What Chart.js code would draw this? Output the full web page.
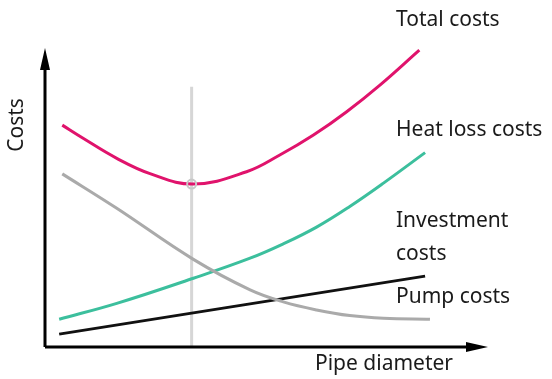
<!DOCTYPE html>
<html>
<head>
<meta charset="utf-8">
<script src="https://cdn.jsdelivr.net/npm/chart.js@4/dist/chart.umd.min.js"></script>
<style>
    html, body { margin: 0; padding: 0; background: #fff; }
    #wrap { width: 552px; height: 379px; }
</style>
</head>
<body>
<div id="wrap"><canvas id="costChart"></canvas></div>
<script>
// Pipe diameter (relative units) and the cost curves over it
const totalX = [3.9, 8.6, 16.2, 23.7, 33.5, 45.5, 53.0, 60.6, 68.1, 75.6, 84.5];
const totalY = [74.2, 69.8, 63.1, 58.0, 54.5, 58.6, 64.2, 70.9, 78.7, 87.6, 99.3];

const heatX = [3.2, 16.2, 33.5, 46.3, 53.8, 61.3, 68.8, 76.4, 85.8];
const heatY = [9.3, 14.6, 23.0, 29.7, 34.5, 40.1, 47.0, 54.8, 65.0];

const investX = [3.9, 16.2, 33.5, 46.3, 53.8, 61.3, 68.8, 76.4, 86.9];
const investY = [57.9, 46.4, 29.3, 19.1, 15.1, 12.4, 10.5, 9.6, 9.3];

const pumpX = [3.2, 85.8];
const pumpY = [4.3, 23.7];

// Economic optimum: minimum of the total cost curve
const optimumX = 33.1;
const optimumY = 54.5;

const FONT = '21px "Noto Sans", sans-serif';

function toPoints(xs, ys) {
    return xs.map((x, i) => ({ x: x, y: ys[i] }));
}

// Axes with arrows, axis titles, curve labels and the optimum marker
const diagramPlugin = {
    id: 'diagram',
    beforeDatasetsDraw(chart) {
        const ctx = chart.ctx;
        const xs = chart.scales.x, ys = chart.scales.y;
        const px = xs.getPixelForValue(optimumX);
        ctx.save();
        ctx.strokeStyle = '#d6d6d6';
        ctx.lineWidth = 3;
        ctx.beginPath();
        ctx.moveTo(px, ys.getPixelForValue(87));
        ctx.lineTo(px, ys.getPixelForValue(0));
        ctx.stroke();
        ctx.restore();
    },
    afterDatasetsDraw(chart) {
        const ctx = chart.ctx;
        const xs = chart.scales.x, ys = chart.scales.y;
        const x0 = xs.getPixelForValue(0), y0 = ys.getPixelForValue(0);
        const xEnd = xs.getPixelForValue(100), yEnd = ys.getPixelForValue(100);
        ctx.save();

        // optimum circle
        ctx.strokeStyle = '#c8c8c8';
        ctx.lineWidth = 2;
        ctx.beginPath();
        ctx.arc(xs.getPixelForValue(optimumX), ys.getPixelForValue(optimumY), 4.5, 0, Math.PI * 2);
        ctx.stroke();

        // axes
        ctx.strokeStyle = '#000';
        ctx.fillStyle = '#000';
        ctx.lineWidth = 3;
        ctx.beginPath();
        ctx.moveTo(x0, y0);
        ctx.lineTo(x0, yEnd + 18);
        ctx.moveTo(x0, y0);
        ctx.lineTo(xEnd - 18, y0);
        ctx.stroke();

        ctx.beginPath();
        ctx.moveTo(x0, yEnd);
        ctx.lineTo(x0 - 5, yEnd + 22);
        ctx.lineTo(x0 + 5, yEnd + 22);
        ctx.closePath();
        ctx.fill();

        ctx.beginPath();
        ctx.moveTo(xEnd, y0);
        ctx.lineTo(xEnd - 22, y0 - 5);
        ctx.lineTo(xEnd - 22, y0 + 5);
        ctx.closePath();
        ctx.fill();

        // text
        ctx.fillStyle = '#1a1a1a';
        ctx.font = FONT;
        ctx.textBaseline = 'middle';
        ctx.textAlign = 'left';
        ctx.fillText('Total costs', 396, 20);
        ctx.fillText('Heat loss costs', 396, 130);
        ctx.fillText('Investment', 396, 221);
        ctx.fillText('costs', 396, 254);
        ctx.fillText('Pump costs', 396, 297);
        ctx.fillText('Pipe diameter', 315, 364);

        ctx.translate(17, 125);
        ctx.rotate(-Math.PI / 2);
        ctx.textAlign = 'center';
        ctx.fillText('Costs', 0, 0);
        ctx.restore();
    }
};

function curve(label, xs, ys, color) {
    return {
        label: label,
        data: toPoints(xs, ys),
        borderColor: color,
        borderWidth: 3,
        pointRadius: 0,
        tension: 0.4,
        fill: false
    };
}

const ctx = document.getElementById('costChart').getContext('2d');
const costChart = new Chart(ctx, {
    type: 'line',
    data: {
        datasets: [
            curve('Investment costs', investX, investY, '#aaaaaa'),
            curve('Heat loss costs', heatX, heatY, '#3cbf9d'),
            curve('Pump costs', pumpX, pumpY, '#111111'),
            curve('Total costs', totalX, totalY, '#e0136c')
        ]
    },
    options: {
        responsive: true,
        maintainAspectRatio: false,
        animation: false,
        layout: { padding: { left: 45, right: 64, top: 48, bottom: 32 } },
        plugins: {
            legend: { display: false },
            tooltip: { enabled: false }
        },
        scales: {
            x: { type: 'linear', min: 0, max: 100, display: false },
            y: { type: 'linear', min: 0, max: 100, display: false }
        }
    },
    plugins: [diagramPlugin]
});
</script>
</body>
</html>
